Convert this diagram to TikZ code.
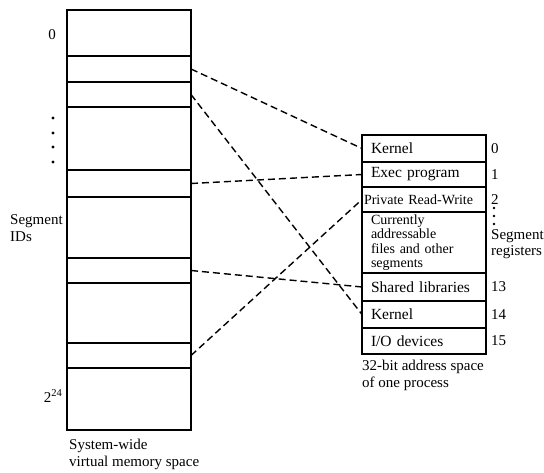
\documentclass[tikz,border=0pt]{standalone}
\usepackage{fontspec}
\setmainfont{Liberation Serif}
\usetikzlibrary{positioning}

\begin{document}
\begin{tikzpicture}[x=1pt, y=-1pt,
    seg/.style={draw, line width=1.6pt, minimum width=124pt, minimum height=#1,
                inner sep=0pt, outer sep=0pt},
    reg/.style={draw, line width=1.6pt, minimum width=124pt, minimum height=#1,
                text width=106pt, inner xsep=9pt, inner ysep=0pt, outer sep=0pt,
                align=left, font=\fontsize{15.5}{15}\selectfont},
    link/.style={dash pattern=on 7pt off 4pt, line width=1.4pt},
    lbl/.style={font=\fontsize{15}{16.5}\selectfont, inner sep=0pt, align=left},
]
    \useasboundingbox (0,0) rectangle (544,473);

    % system-wide segment column
    \foreach \t/\b [count=\i] in {10/56,56/82,82/107,107/170,170/197,197/258,258/283,283/343,343/368,368/430}
        \node[seg={(\b-\t)*1pt}] (s\i) at (129,{(\t+\b)/2}) {};

    \node[lbl] (zero) at (52,35) {0};
    \foreach \y in {118,133,147,162}
        \fill (53,\y) circle (1.6pt);
    \node[lbl, anchor=west] (segids) at (10,228) {Segment\\IDs};
    \node[lbl] (maxid) at (53,396) {2\textsuperscript{24}};
    \node[lbl, anchor=north west] (sysmem) at (69,439) {System-wide\\virtual memory space};

    % segment registers of one process
    \node[reg=27pt] (kern) at (424,148.5) {Kernel};
    \node[reg=25pt, below=0pt of kern] (exec) {Exec program};
    \node[reg=25pt, below=0pt of exec, inner xsep=2pt, text width=120pt,
          font=\fontsize{14}{14}\selectfont] (prw) {Private Read-Write};
    \node[reg=61pt, below=0pt of prw, font=\fontsize{14}{14.5}\selectfont] (curr)
        {Currently\\addressable\\files and other\\segments};
    \node[reg=28pt, below=0pt of curr] (shlib) {Shared libraries};
    \node[reg=27pt, below=0pt of shlib] (kern2) {Kernel};
    \node[reg=26pt, below=0pt of kern2] (iodev) {I/O devices};

    \node[lbl, right=5pt of kern] (r0) {0};
    \node[lbl, right=5pt of exec] (r1) {1};
    \node[lbl, right=5pt of prw] (r2) {2};
    \foreach \y in {208,216,224}
        \fill (494,\y) circle (1.3pt);
    \node[lbl, anchor=north west] (segregs) at (491,229) {Segment\\registers};
    \node[lbl, right=5pt of shlib] (r13) {13};
    \node[lbl, right=5pt of kern2] (r14) {14};
    \node[lbl, right=5pt of iodev] (r15) {15};
    \node[lbl, anchor=north west] (addrsp) at (362,360) {32-bit address space\\of one process};

    % mappings
    \draw[link] (s2.east) -- (kern.west);
    \draw[link] (s3.east) -- (kern2.west);
    \draw[link] (s5.east) -- (exec.west);
    \draw[link] (s7.east) -- (shlib.west);
    \draw[link] (s9.east) -- (prw.west);
\end{tikzpicture}
\end{document}
